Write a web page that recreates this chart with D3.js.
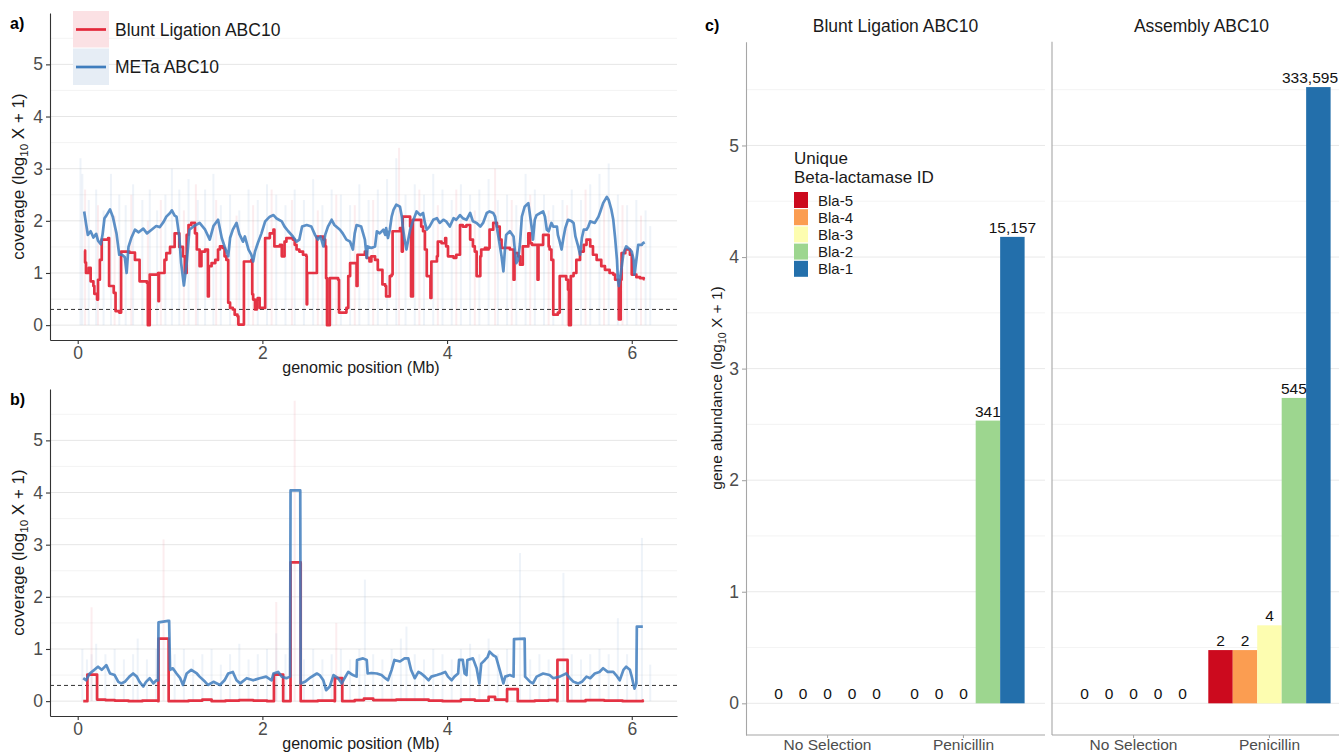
<!DOCTYPE html>
<html>
<head>
<meta charset="utf-8">
<script src="https://cdn.jsdelivr.net/npm/d3@7"></script>
<style>
  body { margin: 0; background: #fff; }
  svg text { font-family: "Liberation Sans", Arial, sans-serif; }
</style>
</head>
<body>
<script>
// ---- panel a: coverage of the genome (Mb, log10 X + 1) ----
const blueA = [[0.07,2.18],[0.09,1.95],[0.11,1.73],[0.14,1.8],[0.17,1.68],[0.20,1.75],[0.22,1.62],[0.25,1.55],[0.27,1.75],[0.29,2.05],[0.31,2.1],[0.35,2.22],[0.38,2.08],[0.42,1.76],[0.45,1.35],[0.48,1.35],[0.51,1.3],[0.53,1.0],[0.55,1.5],[0.58,1.67],[0.62,1.83],[0.66,1.78],[0.71,1.85],[0.75,1.76],[0.80,1.83],[0.85,1.9],[0.89,1.88],[0.93,1.98],[0.96,2.08],[1.0,2.15],[1.02,2.2],[1.05,2.1],[1.07,2.08],[1.10,1.7],[1.12,1.19],[1.15,0.76],[1.18,1.19],[1.21,1.83],[1.26,1.9],[1.32,1.96],[1.38,1.83],[1.43,1.64],[1.47,1.9],[1.52,2.02],
  [1.56,1.67],[1.59,1.51],[1.63,1.32],[1.65,1.67],[1.68,1.83],[1.72,1.96],[1.75,1.75],[1.79,1.6],[1.81,1.7],[1.85,1.45],[1.88,1.35],[1.90,1.22],[1.92,1.41],[1.95,1.57],[1.99,1.76],[2.03,1.99],[2.08,2.08],[2.12,2.11],[2.15,2.05],[2.21,1.99],[2.24,1.89],[2.28,1.8],[2.33,1.7],[2.37,1.6],[2.40,1.64],[2.43,1.89],[2.48,1.92],[2.53,1.89],[2.57,1.73],[2.60,1.64],[2.63,1.7],[2.66,1.51],[2.68,1.73],[2.71,1.89],[2.75,2.02],[2.78,1.92],[2.84,1.83],[2.87,1.76],[2.91,1.64],[2.95,1.6],[2.98,1.45],[3.0,1.76],[3.02,1.92],[3.07,1.89],[3.11,1.64],[3.13,1.29],[3.14,1.51],[3.18,1.48],[3.22,1.51],
  [3.24,1.8],[3.27,1.76],[3.31,1.83],[3.33,1.73],[3.34,1.86],[3.36,1.67],[3.38,1.83],[3.40,2.08],[3.42,2.21],[3.45,2.31],[3.49,2.27],[3.51,2.08],[3.52,1.89],[3.54,1.64],[3.56,1.45],[3.58,1.64],[3.60,1.83],[3.63,1.99],[3.67,2.18],[3.71,2.11],[3.74,2.15],[3.76,1.96],[3.78,1.83],[3.81,1.89],[3.85,2.02],[3.89,2.05],[3.92,1.96],[3.96,2.02],[3.99,1.99],[4.03,1.89],[4.07,2.05],[4.10,2.02],[4.14,2.11],[4.17,2.05],[4.21,2.02],[4.25,2.15],[4.28,1.99],[4.32,1.96],[4.36,1.89],[4.39,1.96],[4.43,2.15],[4.46,2.18],[4.50,2.15],[4.52,2.08],[4.55,1.76],[4.59,1.32],[4.61,1.03],[4.63,1.54],[4.64,1.73],[4.68,1.8],[4.72,1.7],[4.73,1.51],[4.75,1.19],[4.77,1.25],[4.79,1.57],[4.81,2.08],[4.84,2.27],[4.88,2.34],
  [4.92,1.83],[4.93,1.64],[4.95,2.02],[4.97,2.11],[5.01,2.15],[5.04,2.18],[5.06,2.08],[5.08,1.83],[5.10,1.8],[5.13,1.96],[5.15,1.89],[5.19,1.89],[5.20,1.73],[5.22,1.6],[5.24,1.45],[5.26,1.67],[5.28,1.86],[5.31,2.02],[5.35,1.99],[5.37,1.96],[5.39,1.7],[5.42,1.51],[5.44,1.35],[5.46,1.67],[5.48,1.83],[5.51,1.83],[5.53,1.89],[5.55,1.99],[5.60,1.96],[5.64,2.08],[5.66,2.18],[5.69,2.34],[5.73,2.46],[5.75,2.4],[5.78,2.21],[5.80,2.02],[5.82,1.67],[5.84,1.25],[5.85,0.87],[5.86,0.75],[5.89,1.1],[5.91,1.38],[5.94,1.51],[5.98,1.45],[6.0,1.41],[6.02,1.25],[6.03,0.97],[6.05,1.25],[6.07,1.54],[6.11,1.54],[6.12,1.57],[6.14,1.59]];

const redA = [[0.07,1.43],[0.08,1.2],[0.09,1.0],[0.12,1.1],[0.14,0.84],[0.17,0.75],[0.18,0.6],[0.21,0.49],[0.22,0.87],[0.24,1.25],[0.26,1.64],[0.33,1.67],[0.34,0.75],[0.39,0.62],[0.41,0.27],[0.45,0.24],[0.47,1.41],[0.56,1.39],[0.62,1.25],[0.67,0.84],[0.75,0.81],[0.76,0.0],[0.78,0.97],[0.87,1.0],[0.875,0.46],[0.88,1.0],[0.94,1.25],[0.96,1.38],[1.0,1.5],[1.05,1.76],[1.10,1.5],[1.14,1.32],[1.16,1.0],[1.18,1.73],[1.20,1.92],[1.23,1.96],[1.27,1.76],[1.29,1.45],[1.32,1.13],[1.34,1.41],[1.38,1.45],[1.41,0.55],[1.42,1.13],[1.45,1.19],[1.49,1.25],[1.52,1.45],
  [1.54,1.51],[1.57,1.48],[1.59,1.32],[1.61,1.25],[1.63,0.43],[1.65,0.33],[1.68,0.3],[1.70,0.2],[1.73,0.17],[1.74,0.01],[1.79,0.01],[1.80,1.22],[1.88,1.25],[1.89,0.59],[1.90,0.49],[1.92,0.3],[1.94,0.49],[1.95,0.52],[1.97,0.33],[2.01,0.33],[2.03,1.67],[2.08,1.76],[2.12,1.83],[2.13,1.51],[2.19,1.54],[2.21,1.32],[2.24,1.6],[2.26,1.67],[2.33,1.64],[2.35,1.54],[2.37,1.45],[2.40,1.41],[2.44,1.35],[2.475,1.32],[2.48,0.4],[2.485,1.0],[2.57,1.0],[2.59,1.7],[2.66,1.64],[2.68,1.51],[2.69,0.9],[2.70,0.0],[2.72,0.0],[2.73,0.9],[2.82,0.87],[2.83,0.24],[2.91,0.33],[2.93,0.94],[2.95,1.19],[3.0,1.19],[3.02,0.75],[3.03,1.35],[3.11,1.41],[3.13,1.29],[3.16,1.22],[3.18,1.32],[3.22,1.25],
  [3.25,1.06],[3.29,1.06],[3.30,0.78],[3.33,0.75],[3.34,0.55],[3.36,0.55],[3.38,0.94],[3.40,0.97],[3.41,1.8],[3.47,1.8],[3.49,1.86],[3.51,1.41],[3.52,2.08],[3.58,2.08],[3.60,1.89],[3.61,0.55],[3.63,2.02],[3.71,2.02],[3.72,1.89],[3.74,1.8],[3.76,1.45],[3.78,0.94],[3.81,0.94],[3.82,0.52],[3.83,1.22],[3.89,1.32],[3.90,1.6],[3.94,1.57],[3.98,1.67],[3.99,1.51],[4.01,1.32],[4.07,1.29],[4.10,1.35],[4.14,1.92],[4.17,1.89],[4.21,1.92],[4.25,1.64],[4.28,1.51],[4.30,1.41],[4.32,0.94],[4.36,1.32],[4.37,1.45],[4.41,1.48],[4.43,1.45],[4.45,1.48],[4.46,1.83],[4.50,1.96],[4.54,1.89],[4.57,1.64],[4.59,1.48],[4.68,1.45],[4.72,0.87],[4.73,1.38],[4.77,1.32],[4.79,1.16],[4.82,1.51],
  [4.84,1.51],[4.88,1.76],[4.90,1.57],[4.92,1.54],[4.97,1.54],[4.98,0.87],[4.99,1.54],[5.04,1.73],[5.08,1.73],[5.10,1.51],[5.11,1.45],[5.13,1.25],[5.15,0.2],[5.20,0.24],[5.22,0.94],[5.29,0.87],[5.31,0.68],[5.32,0.0],[5.34,0.94],[5.37,1.0],[5.40,1.25],[5.44,1.41],[5.48,1.54],[5.51,1.64],[5.55,1.51],[5.58,1.35],[5.62,1.25],[5.66,1.25],[5.67,1.13],[5.71,1.06],[5.76,1.0],[5.80,0.97],[5.82,0.87],[5.85,0.87],[5.86,0.11],[5.88,0.87],[5.89,1.38],[5.93,1.45],[5.98,1.35],[6.0,0.97],[6.03,0.97],[6.05,0.92],[6.09,0.9],[6.13,0.88],[6.14,0.88]];

// raw per-window coverage peaks drawn as faint lines behind the smoothed tracks
const hazeABlue = [[0.03,3.2],[0.05,2.9],[0.12,2.4],[0.2,2.6],[0.28,2.2],[0.36,2.9],[0.45,2.5],[0.52,2.3],[0.6,2.7],[0.7,2.4],[0.78,2.6],[0.86,2.2],[0.95,2.5],[1.02,3.0],[1.1,2.6],[1.2,2.8],[1.3,2.4],[1.38,2.6],[1.47,2.9],[1.55,2.3],[1.65,2.5],[1.75,2.2],[1.85,2.6],[1.95,2.4],[2.05,2.7],[2.15,2.5],[2.25,2.3],[2.35,2.6],[2.45,2.4],[2.55,2.8],[2.65,2.3],[2.75,2.6],[2.85,2.5],[2.95,2.3],[3.05,2.7],[3.15,2.4],[3.25,2.6],[3.35,2.8],[3.45,3.2],[3.55,2.5],[3.65,2.7],[3.75,2.5],[3.85,2.9],[3.95,2.6],[4.05,2.4],[4.15,2.7],[4.25,2.5],[4.35,2.6],[4.45,2.8],[4.55,2.4],[4.65,2.5],[4.75,2.3],[4.85,2.9],[4.95,2.6],[5.05,2.5],[5.15,2.3],[5.25,2.4],[5.35,2.6],[5.45,2.4],[5.55,2.7],[5.65,2.9],[5.75,3.1],[5.85,2.5],[5.95,2.3],[6.05,2.4],[6.15,2.2],[6.2,1.9]];
const hazeARed = [[0.08,2.6],[0.22,2.3],[0.4,2.1],[0.58,2.5],[0.76,2.0],[0.9,2.4],[1.15,2.2],[1.28,2.7],[1.5,2.4],[1.72,2.1],[1.9,2.3],[2.1,2.6],[2.32,2.4],[2.6,2.2],[2.8,2.5],[3.0,2.3],[3.2,2.4],[3.48,3.4],[3.7,2.6],[3.9,2.3],[4.1,2.6],[4.3,2.2],[4.52,3.0],[4.7,2.4],[4.9,2.5],[5.1,2.2],[5.3,2.3],[5.5,2.6],[5.7,2.4],[5.9,2.3],[6.1,2.1]];

// ---- panel b ----
const blueB = [[0.06,0.44],[0.09,0.40],[0.13,0.53],[0.18,0.60],[0.22,0.66],[0.26,0.60],[0.31,0.69],[0.35,0.53],[0.40,0.50],[0.44,0.37],[0.47,0.34],[0.51,0.37],[0.56,0.47],[0.60,0.53],[0.64,0.47],[0.67,0.37],[0.71,0.28],[0.74,0.37],[0.78,0.44],[0.82,0.34],[0.85,0.40],[0.87,0.40],[0.875,1.51],[0.98,1.54],[0.99,1.54],[1.0,0.60],[1.03,0.63],[1.07,0.53],[1.11,0.44],[1.14,0.31],[1.18,0.53],[1.23,0.60],[1.29,0.53],[1.32,0.47],[1.38,0.37],[1.41,0.31],[1.47,0.37],[1.54,0.31],[1.59,0.40],[1.63,0.53],[1.68,0.56],[1.72,0.40],[1.76,0.34],[1.83,0.44],[1.90,0.40],[1.97,0.44],[2.04,0.47],[2.10,0.40],[2.12,0.53],[2.17,0.56],[2.21,0.47],[2.26,0.44],[2.30,0.47],[2.305,4.04],[2.41,4.04],[2.415,0.34],[2.46,0.37],[2.51,0.44],[2.59,0.53],[2.62,0.50],[2.66,0.40],[2.69,0.21],[2.73,0.28],
  [2.77,0.50],[2.82,0.44],[2.86,0.34],[2.89,0.44],[2.93,0.56],[2.98,0.50],[3.02,0.47],[3.025,0.79],[3.09,0.82],[3.13,0.79],[3.14,0.53],[3.18,0.54],[3.24,0.53],[3.29,0.50],[3.33,0.44],[3.36,0.40],[3.40,0.60],[3.43,0.79],[3.49,0.76],[3.54,0.82],[3.58,0.82],[3.61,0.60],[3.65,0.44],[3.69,0.56],[3.72,0.53],[3.76,0.47],[3.80,0.40],[3.83,0.47],[3.89,0.50],[3.94,0.53],[3.98,0.56],[4.01,0.47],[4.05,0.40],[4.08,0.47],[4.12,0.53],[4.13,0.79],[4.17,0.79],[4.19,0.53],[4.21,0.50],[4.22,0.79],[4.28,0.82],[4.32,0.63],[4.35,0.34],[4.37,0.72],[4.41,0.79],[4.44,0.85],[4.46,0.95],[4.50,0.88],[4.53,0.85],[4.57,0.60],[4.61,0.34],[4.63,0.47],[4.68,0.50],[4.72,0.47],[4.725,1.19],[4.84,1.20],[4.845,0.47],[4.90,0.37],[4.93,0.34],[4.97,0.47],[5.04,0.53],[5.11,0.50],[5.15,0.44],[5.22,0.47],[5.29,0.53],[5.33,0.44],[5.37,0.37],[5.42,0.34],[5.46,0.37],[5.51,0.47],[5.55,0.44],[5.60,0.53],[5.65,0.56],[5.69,0.63],[5.74,0.56],[5.80,0.56],[5.83,0.50],[5.87,0.40],[5.91,0.60],[5.94,0.66],[5.98,0.60],[6.00,0.47],[6.02,0.31],[6.03,0.24],[6.05,0.34],[6.055,1.43],[6.12,1.43]];

const redB = [[0.06,0.0],[0.10,0.0],[0.105,0.51],[0.20,0.51],[0.21,0.03],[0.30,0.02],[0.40,0.01],[0.55,0.0],[0.70,0.01],[0.87,0.0],[0.875,1.2],[0.98,1.2],[0.985,0.0],[1.2,0.01],[1.35,0.03],[1.45,0.0],[1.6,0.01],[1.75,0.02],[1.9,0.01],[2.05,0.0],[2.12,0.0],[2.125,0.51],[2.22,0.51],[2.225,0.0],[2.30,0.0],[2.305,2.66],[2.41,2.66],[2.415,0.0],[2.6,0.01],[2.78,0.0],[2.785,0.44],[2.86,0.44],[2.865,0.0],[3.0,0.02],[3.1,0.05],[3.2,0.02],[3.45,0.03],[3.6,0.03],[3.8,0.01],[3.95,0.0],[4.15,0.03],[4.3,0.01],[4.45,0.08],[4.52,0.03],[4.645,0.0],[4.65,0.23],[4.76,0.23],[4.765,0.0],[4.95,0.01],[5.1,0.02],[5.19,0.0],[5.195,0.79],[5.30,0.79],[5.305,0.0],[5.5,0.02],[5.7,0.01],[5.9,0.0],[6.12,0.01],[6.13,0.01]];

const hazeBBlue = [[0.05,1.0],[0.1,0.8],[0.15,0.9],[0.2,1.1],[0.3,0.9],[0.4,1.0],[0.5,0.8],[0.6,0.9],[0.65,1.2],[0.75,0.8],[0.85,1.0],[1.05,0.9],[1.15,1.0],[1.25,0.8],[1.35,0.9],[1.45,1.0],[1.55,0.7],[1.65,0.9],[1.75,1.1],[1.85,0.8],[1.95,0.9],[2.05,1.0],[2.15,1.3],[2.25,0.9],[2.45,0.8],[2.55,1.0],[2.65,0.8],[2.75,0.9],[2.85,1.0],[2.95,0.8],[3.05,1.0],[3.11,2.33],[3.2,0.9],[3.3,0.8],[3.4,1.0],[3.5,1.2],[3.56,1.43],[3.65,0.9],[3.75,0.8],[3.85,1.0],[3.95,0.9],[4.05,0.8],[4.15,1.0],[4.25,1.1],[4.35,0.9],[4.45,1.2],[4.55,0.9],[4.65,1.0],[4.79,2.84],[4.9,0.8],[5.0,0.9],[5.1,0.8],[5.26,2.46],[5.35,0.9],[5.45,0.8],[5.55,0.9],[5.65,1.0],[5.75,0.9],[5.85,1.59],[5.95,0.9],[6.05,1.0],[6.11,3.13],[6.2,0.7]];
const hazeBRed = [[0.15,1.8],[0.93,3.1],[2.15,1.9],[2.35,5.76],[2.8,1.5]];

const covTicksY = [0, 1, 2, 3, 4, 5];
const covTicksX = [0, 2, 4, 6];
const covSeries = ["Blunt Ligation ABC10", "METa ABC10"];
const detectionLimit = Math.log10(2);

// ---- panel c: beta-lactamase gene abundance ----
const facets = ["Blunt Ligation ABC10", "Assembly ABC10"];
const treatments = ["No Selection", "Penicillin"];
const blaIds = ["Bla-5", "Bla-4", "Bla-3", "Bla-2", "Bla-1"];
const bluntNoSel = [0, 0, 0, 0, 0];
const bluntPen = [0, 0, 0, 341, 15157];
const assemblyNoSel = [0, 0, 0, 0, 0];
const assemblyPen = [2, 2, 4, 545, 333595];
const abundanceTicks = [0, 1, 2, 3, 4, 5];

const FONT = '"Liberation Sans", Arial, sans-serif';
const W = 1339, H = 753;
const svg = d3.select("body").append("svg").attr("width", W).attr("height", H);

const RED = "#e3283a";
const BLUE = "#3f7dbd";

function styleAxis(g, color, size) {
  g.attr("font-family", FONT).attr("font-size", size);
  g.select(".domain").attr("stroke", color).attr("stroke-width", 1.1);
  g.selectAll(".tick line").attr("stroke", color).attr("stroke-width", 1.1);
  g.selectAll(".tick text").attr("fill", "#4d4d4d");
}

function logTitle(g, x, y, before, after, size) {
  const t = g.append("text")
    .attr("transform", `translate(${x},${y}) rotate(-90)`)
    .attr("text-anchor", "middle")
    .attr("font-size", size)
    .attr("fill", "#1a1a1a");
  t.append("tspan").text(before);
  t.append("tspan").attr("font-size", size * 0.68).attr("dy", 4).text("10");
  t.append("tspan").attr("dy", -4).text(after);
}

function coveragePanel(cfg) {
  const g = svg.append("g");
  const x = d3.scaleLinear().domain([-0.30, 6.49]).range([50, 677]);
  const y = d3.scaleLinear().domain([-0.285, 5.985]).range([cfg.bottom, cfg.top]);

  // horizontal grid (major + minor)
  const grid = d3.range(0, 5.51, 0.5);
  g.selectAll(".grid").data(grid).join("line")
    .attr("x1", 50).attr("x2", 677)
    .attr("y1", d => y(d)).attr("y2", d => y(d))
    .attr("stroke", d => Number.isInteger(d) ? "#e6e6e6" : "#eeeeee")
    .attr("stroke-width", d => Number.isInteger(d) ? 1 : 0.7);

  // faint raw coverage
  const haze = (data, color, op) => g.append("g").selectAll("line").data(data).join("line")
    .attr("x1", d => x(d[0])).attr("x2", d => x(d[0]))
    .attr("y1", y(0)).attr("y2", d => y(d[1]))
    .attr("stroke", color).attr("stroke-opacity", op).attr("stroke-width", 2);
  haze(cfg.hazeBlue, "#a9c4e0", 0.2);
  haze(cfg.hazeRed, "#f2a5ae", 0.2);

  g.append("line")
    .attr("x1", 50).attr("x2", 677)
    .attr("y1", y(detectionLimit)).attr("y2", y(detectionLimit))
    .attr("stroke", "#333").attr("stroke-width", 1).attr("stroke-dasharray", "4,3");

  const redLine = d3.line().x(d => x(d[0])).y(d => y(d[1])).curve(d3.curveStepAfter);
  const blueLine = d3.line().x(d => x(d[0])).y(d => y(d[1]));
  g.append("path").datum(cfg.red).attr("d", redLine)
    .attr("fill", "none").attr("stroke", RED).attr("stroke-width", 2.7)
    .attr("stroke-linejoin", "round").attr("stroke-opacity", 0.95);
  g.append("path").datum(cfg.blue).attr("d", blueLine)
    .attr("fill", "none").attr("stroke", BLUE).attr("stroke-width", 2.7)
    .attr("stroke-linejoin", "round").attr("stroke-opacity", 0.85);

  const ya = g.append("g").attr("transform", "translate(50,0)")
    .call(d3.axisLeft(y).tickValues(covTicksY).tickFormat(d3.format("d"))
      .tickSize(4).tickPadding(3).tickSizeOuter(0));
  styleAxis(ya, "#333", 17.5);
  const xa = g.append("g").attr("transform", `translate(0,${cfg.bottom})`)
    .call(d3.axisBottom(x).tickValues(covTicksX).tickFormat(d3.format("d"))
      .tickSize(4).tickPadding(3).tickSizeOuter(0));
  styleAxis(xa, "#333", 17.5);

  g.append("text").attr("x", 361).attr("y", cfg.bottom + 33)
    .attr("text-anchor", "middle").attr("font-size", 16).attr("fill", "#1a1a1a")
    .text("genomic position (Mb)");
  logTitle(g, 24, (cfg.top + cfg.bottom) / 2, "coverage (log", " X + 1)", 17);

  g.append("text").attr("x", 10).attr("y", cfg.top + 16)
    .attr("font-size", 16).attr("font-weight", "bold").text(cfg.label);
  return g;
}

const gA = coveragePanel({ top: 13, bottom: 340, red: redA, blue: blueA,
  hazeBlue: hazeABlue, hazeRed: hazeARed, label: "a)" });
coveragePanel({ top: 389, bottom: 716, red: redB, blue: blueB,
  hazeBlue: hazeBBlue, hazeRed: hazeBRed, label: "b)" });

// legend of panel a
const legA = gA.append("g");
covSeries.forEach((name, i) => {
  const ky = 11 + i * 37.5;
  const col = i === 0 ? RED : BLUE;
  legA.append("rect").attr("x", 73).attr("y", ky).attr("width", 36).attr("height", 36.5)
    .attr("fill", i === 0 ? "#fbe1e4" : "#e6edf5");
  legA.append("line").attr("x1", 76).attr("x2", 106).attr("y1", ky + 18.5).attr("y2", ky + 18.5)
    .attr("stroke", col).attr("stroke-width", 2.7);
  legA.append("text").attr("x", 115).attr("y", ky + 24.5)
    .attr("font-size", 17.5).attr("fill", "#1a1a1a").text(name);
});

// ---- panel c ----
const gC = svg.append("g");
const yC = d3.scaleLinear().domain([-0.284, 5.93]).range([735, 41.7]);
const blaColor = d3.scaleOrdinal().domain(blaIds)
  .range(["#cc0a1e", "#fb9d51", "#fdfdb0", "#9dd68f", "#236fab"]);
const facetRanges = [[746, 1045], [1052, 1351]];
const facetData = [[bluntNoSel, bluntPen], [assemblyNoSel, assemblyPen]];

facets.forEach((name, fi) => {
  const [x0, x1] = facetRanges[fi];
  const g = gC.append("g");
  const xT = d3.scaleBand().domain(treatments).range([x0, x1]).paddingInner(0.1).paddingOuter(0.15);
  const xB = d3.scaleBand().domain(blaIds).range([0, xT.bandwidth()]);

  const grid = d3.range(0, 5.51, 0.5);
  g.selectAll(".grid").data(grid).join("line")
    .attr("x1", x0).attr("x2", x1)
    .attr("y1", d => yC(d)).attr("y2", d => yC(d))
    .attr("stroke", d => Number.isInteger(d) ? "#e9e9e9" : "#f0f0f0")
    .attr("stroke-width", d => Number.isInteger(d) ? 1 : 0.8);

  const rows = [];
  treatments.forEach((t, ti) => {
    facetData[fi][ti].forEach((v, bi) => rows.push({ t, id: blaIds[bi], v, lv: Math.log10(v + 1) }));
  });

  g.selectAll("rect.bar").data(rows.filter(d => d.v > 0)).join("rect")
    .attr("class", "bar")
    .attr("x", d => xT(d.t) + xB(d.id))
    .attr("width", xB.bandwidth())
    .attr("y", d => yC(d.lv))
    .attr("height", d => yC(0) - yC(d.lv))
    .attr("fill", d => blaColor(d.id));

  g.selectAll("text.lab").data(rows).join("text")
    .attr("class", "lab")
    .attr("x", d => xT(d.t) + xB(d.id) + xB.bandwidth() / 2)
    .attr("y", d => yC(d.lv) - 4)
    .attr("text-anchor", "middle").attr("font-size", 15.5).attr("fill", "#111")
    .text(d => d3.format(",")(d.v))
    .each(function () {
      // keep labels inside the page edge
      const b = this.getBBox();
      if (b.x + b.width > W - 1) this.setAttribute("x", +this.getAttribute("x") - (b.x + b.width - W + 1));
    });

  const xa = g.append("g").attr("transform", "translate(0,735)")
    .call(d3.axisBottom(xT).tickSize(3).tickPadding(1).tickSizeOuter(0));
  styleAxis(xa, "#a6a6a6", 15.5);
  xa.select(".domain").attr("d", `M${x0},0H${x1}`);

  if (fi === 0) {
    const ya = g.append("g").attr("transform", `translate(${x0},0)`)
      .call(d3.axisLeft(yC).tickValues(abundanceTicks).tickFormat(d3.format("d"))
        .tickSize(4).tickPadding(3).tickSizeOuter(0));
    styleAxis(ya, "#a6a6a6", 17.5);
  } else {
    g.append("line").attr("x1", x0).attr("x2", x0).attr("y1", 41.7).attr("y2", 735)
      .attr("stroke", "#a6a6a6").attr("stroke-width", 1.1);
  }

  g.append("text").attr("x", (x0 + x1) / 2).attr("y", 32)
    .attr("text-anchor", "middle").attr("font-size", 17.5).attr("fill", "#1a1a1a").text(name);
});

gC.append("text").attr("x", 705).attr("y", 31)
  .attr("font-size", 16).attr("font-weight", "bold").text("c)");
logTitle(gC, 722, 388, "gene abundance (log", " X + 1)", 15.5);

// legend of panel c
const legC = gC.append("g");
legC.append("text").attr("x", 794).attr("y", 164).attr("font-size", 17).attr("fill", "#1a1a1a").text("Unique");
legC.append("text").attr("x", 794).attr("y", 183).attr("font-size", 17).attr("fill", "#1a1a1a").text("Beta-lactamase ID");
blaIds.forEach((id, i) => {
  const ky = 192 + i * 17.2;
  legC.append("rect").attr("x", 794).attr("y", ky).attr("width", 14).attr("height", 16)
    .attr("fill", blaColor(id));
  legC.append("text").attr("x", 818).attr("y", ky + 13.5).attr("font-size", 15).attr("fill", "#1a1a1a").text(id);
});
</script>
</body>
</html>
